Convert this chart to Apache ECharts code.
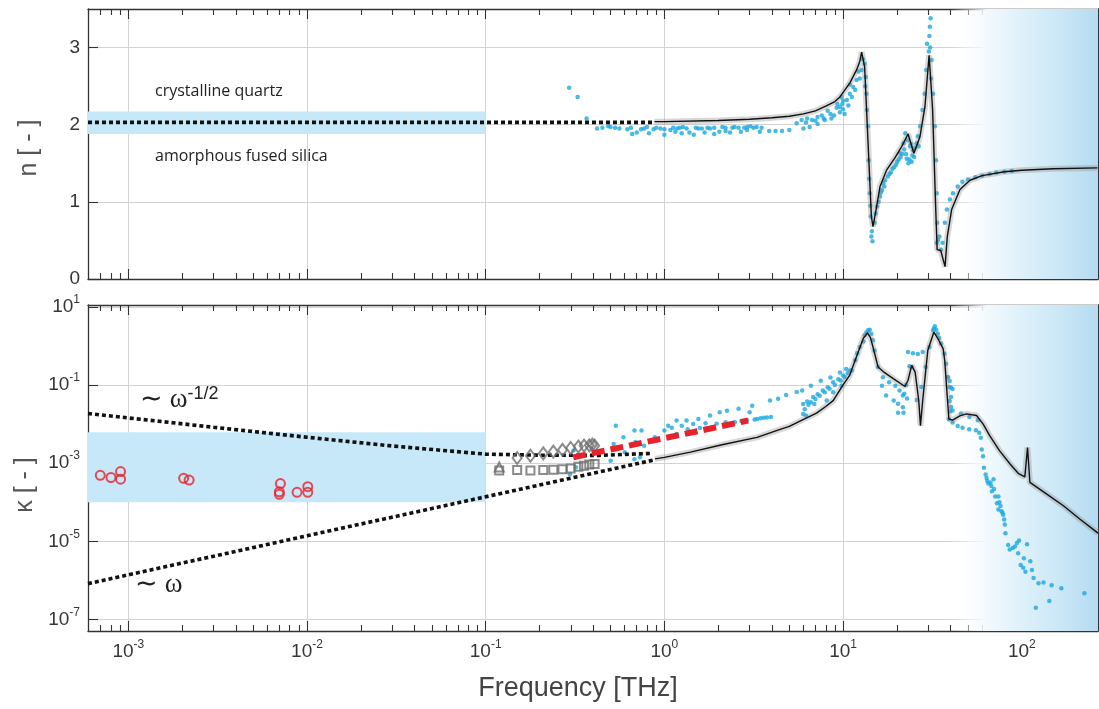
<!DOCTYPE html>
<html>
<head>
<meta charset="utf-8">
<script src="https://cdn.jsdelivr.net/npm/echarts@6/dist/echarts.min.js"></script>
<style>
  html, body { margin: 0; padding: 0; background: #fff; }
  #chart { width: 1099px; height: 709px; }
</style>
</head>
<body>
<div id="chart"></div>
<script>
// axis ranges
const xMin = 5.95e-4, xMax = 267;
const nMin = 0, nMax = 3.5;
const kMin = 5.1e-8, kMax = 11.1;

// ticks and tick labels
const xMajorTicks = [1e-3, 1e-2, 1e-1, 1, 10, 100];
const xMajorExp = ['-3', '-2', '-1', '0', '1', '2'];
const xMinorTicks = [7e-4, 8e-4, 9e-4, 2e-3, 3e-3, 4e-3, 5e-3, 6e-3, 7e-3, 8e-3, 9e-3,
  0.02, 0.03, 0.04, 0.05, 0.06, 0.07, 0.08, 0.09, 0.2, 0.3, 0.4, 0.5, 0.6, 0.7, 0.8, 0.9,
  2, 3, 4, 5, 6, 7, 8, 9, 20, 30, 40, 50, 60, 70, 80, 90, 200];
const nTicks = [0, 1, 2, 3];
const kTicks = [1e-7, 1e-5, 1e-3, 1e-1, 10];
const kExp = ['-7', '-5', '-3', '-1', '1'];

// shaded regions
const nBand = [1.88, 2.17];
const kBand = [1e-4, 6.2e-3];
const bandEnd = 0.1;
const gradStart = 40;

// refractive index n: model (black) and measured (blue)
const nModel = [[0.88, 2.04], [1, 2.04], [2, 2.055], [3, 2.07], [4, 2.09], [5, 2.11], [6, 2.14], [7, 2.18],
  [8, 2.24], [9, 2.30], [9.6, 2.36], [10.9, 2.54], [11.9, 2.71], [12.4, 2.82], [12.7, 2.94], [13.2, 2.75],
  [13.8, 1.76], [14.4, 0.81], [14.7, 0.68], [15.3, 0.90], [16.1, 1.20], [17.5, 1.41], [19.5, 1.57],
  [21.3, 1.72], [23.1, 1.88], [24.9, 1.63], [26.9, 1.84], [28.7, 2.23], [30.3, 2.90], [31.7, 2.19],
  [33.0, 0.90], [33.6, 0.38], [35.2, 0.37], [37.2, 0.16], [38.3, 0.55], [40.5, 0.90], [45.1, 1.16],
  [51.3, 1.28], [60, 1.34], [80, 1.39], [100, 1.41], [150, 1.43], [265, 1.44]];
const nDotted = [[5.95e-4, 2.03], [0.88, 2.03]];
const nMeasured = [[0.293, 2.48], [0.327, 2.36], [0.367, 2.08], [0.42, 1.95], [0.45, 1.96], [0.485, 1.98],
  [0.50, 1.97], [0.53, 1.96], [0.56, 1.95], [0.62, 1.94], [0.65, 1.96], [0.66, 1.88], [0.70, 1.90],
  [0.74, 1.94], [0.77, 1.95], [0.80, 1.97], [0.82, 1.89], [0.87, 1.94], [0.9, 1.96], [0.95, 1.95],
  [1.0, 1.87], [1.0, 1.94], [1.08, 1.93], [1.12, 1.96], [1.15, 1.91], [1.18, 1.95], [1.22, 1.96],
  [1.25, 1.89], [1.27, 1.97], [1.33, 1.95], [1.38, 1.90], [1.46, 1.87], [1.5, 1.96], [1.55, 1.95],
  [1.62, 1.95], [1.68, 1.90], [1.74, 1.96], [1.80, 1.95], [1.9, 1.96], [1.9, 1.88], [2.03, 1.91],
  [2.11, 1.97], [2.2, 1.96], [2.2, 1.92], [2.33, 1.90], [2.4, 1.96], [2.47, 1.97], [2.6, 1.96],
  [2.68, 1.91], [2.8, 1.96], [2.9, 1.93], [2.91, 1.97], [3.03, 1.98], [3.15, 1.96], [3.28, 1.97],
  [3.42, 1.91], [3.5, 1.96], [3.86, 1.92], [4.19, 1.92], [4.55, 1.92], [5.0, 1.93],
  [5.5, 2.02], [5.86, 2.06], [6.0, 1.95], [6.2, 2.03], [6.3, 2.08], [6.5, 1.97], [6.7, 2.06],
  [7.0, 2.05], [7.2, 2.10], [7.2, 2.01], [7.6, 2.12], [7.8, 2.08], [7.9, 2.06], [8.2, 2.18],
  [8.5, 2.14], [8.6, 2.08], [8.9, 2.12], [9.2, 2.22], [9.3, 2.27], [9.6, 2.16], [9.8, 2.36],
  [10.0, 2.31], [10.0, 2.20], [9.6, 2.23], [9.9, 2.27], [10.2, 2.14], [10.5, 2.32], [10.7, 2.25],
  [10.9, 2.40], [10.9, 2.52], [11.2, 2.36], [11.4, 2.49], [11.7, 2.45], [11.9, 2.58], [12.2, 2.69],
  [12.4, 2.6], [12.7, 2.71], [12.9, 2.85], [13.2, 2.79], [13.3, 2.5],
  [13.4, 2.62], [13.5, 2.40], [13.6, 2.19], [13.8, 1.98], [13.9, 1.54], [14.0, 1.3], [14.1, 1.11],
  [14.2, 0.95], [14.3, 0.81], [14.4, 0.55], [14.5, 0.62], [14.6, 0.49], [15.0, 0.73], [15.2, 0.85],
  [15.5, 0.94], [15.8, 1.0], [16.1, 1.07], [16.3, 1.12], [16.5, 1.15], [16.8, 1.24], [17.0, 1.2],
  [17.2, 1.28], [17.8, 1.33], [18.2, 1.36], [18.5, 1.38], [18.9, 1.43], [19.3, 1.45], [19.8, 1.48],
  [20.1, 1.52], [20.5, 1.55], [20.9, 1.63], [21.0, 1.58], [21.4, 1.62], [21.8, 1.76],
  [22.0, 1.68], [22.3, 1.89], [22.5, 1.62], [22.7, 1.56], [23.0, 1.8], [23.2, 1.50], [23.5, 1.55],
  [23.7, 1.72], [24.0, 1.75], [24.2, 1.52], [24.4, 1.60], [24.7, 1.67], [25.0, 1.58], [25.3, 1.70],
  [25.8, 1.76], [26.2, 1.85], [26.5, 1.72], [27.0, 1.98], [27.8, 2.19], [28.6, 2.40],
  [29.2, 2.71], [29.5, 3.05], [30.2, 2.95], [30.4, 3.15], [30.6, 3.27], [30.7, 3.0], [30.9, 3.38],
  [31.0, 2.6], [31.3, 2.84], [31.9, 2.40], [32.6, 1.98], [33.1, 1.54], [33.4, 1.11], [33.6, 0.73],
  [33.4, 0.47], [34.0, 0.51], [34.6, 0.55], [35.3, 0.38], [36.0, 0.47], [37.1, 0.73], [38.1, 0.90],
  [39.6, 1.03], [41.2, 1.11], [43.8, 1.20], [46.5, 1.26], [50, 1.29], [55, 1.32], [60, 1.34],
  [66, 1.36], [72, 1.38], [80, 1.39], [88, 1.40]];

// extinction coefficient kappa: model (black) and measured (blue)
const kModel = [[0.885, 1.29e-3], [1, 1.41e-3], [1.4, 1.91e-3], [2.1, 2.95e-3], [3.3, 4.57e-3],
  [4.4, 7.24e-3], [5.0, 8.71e-3], [5.7, 1.17e-2], [7.1, 1.91e-2], [8.0, 2.82e-2], [8.8, 3.98e-2],
  [10, 0.1], [10.9, 0.178], [11.2, 0.251], [12.4, 0.891], [13.0, 1.58], [13.7, 2.14], [14.2, 1.66],
  [14.7, 0.933], [15.7, 0.288], [16.9, 0.214], [19.1, 0.145], [22.2, 0.0912], [23.1, 0.132],
  [24.2, 0.316], [25.3, 0.214], [26.5, 0.0407], [27.1, 9.12e-3], [27.9, 0.0407], [29.8, 0.776],
  [32.2, 2.24], [33.6, 1.66], [36.3, 0.851], [37.1, 0.398], [38.0, 0.0794], [39.1, 0.0135],
  [41, 0.0126], [45, 0.0162], [49, 0.0182], [55.8, 0.0166], [60.8, 0.01], [66, 5.13e-3],
  [75, 2.09e-3], [86, 9.55e-4], [95.5, 5.5e-4], [104, 4.47e-4], [107.7, 2.51e-3], [111, 3.24e-4],
  [138, 1.62e-4], [171, 8.13e-5], [211, 3.72e-5], [267, 1.62e-5]];
const kPowerHalf = [[5.95e-4, 1.86e-2], [3e-3, 8.3e-3], [1e-2, 4.6e-3], [3e-2, 2.75e-3], [0.1, 1.7e-3],
  [0.2, 1.6e-3], [0.43, 1.58e-3], [0.86, 1.78e-3]];
const kLinear = [[5.95e-4, 8.3e-7], [0.87, 1.2e-3]];
const kMeasured = [[0.296, 5.2e-4], [0.32, 7.9e-4], [0.31, 2.1e-3], [0.50, 1.15e-3], [0.52, 3.1e-3],
  [0.535, 9.1e-3], [0.59, 4.6e-3], [0.60, 1.9e-3], [0.68, 6.8e-3], [0.69, 3.5e-3], [0.68, 1.26e-3],
  [0.73, 1.41e-3], [0.745, 6.8e-3], [0.77, 2.8e-3], [0.885, 4.6e-3], [1.0, 6.8e-3], [1.05, 9.1e-3],
  [1.1, 8e-3], [1.17, 1.23e-2], [1.17, 5.6e-3], [1.25, 9e-3], [1.33, 1.23e-2], [1.35, 7.4e-3],
  [1.45, 1e-2], [1.55, 1.35e-2], [1.58, 7.9e-3], [1.7, 1.05e-2], [1.80, 1.66e-2], [1.96, 1.02e-2],
  [2.04, 2.0e-2], [2.2, 1.12e-2], [2.24, 2.19e-2], [2.48, 1.12e-2], [2.6, 2.45e-2], [2.7, 1.2e-2],
  [2.9, 1.25e-2], [3.0, 2.0e-2], [3.1, 2.95e-2], [3.2, 1.3e-2], [3.3, 1.35e-2], [3.45, 1.4e-2],
  [3.6, 1.45e-2], [3.75, 1.48e-2], [3.95, 1.51e-2], [3.9, 3.98e-2], [4.33, 4.47e-2], [4.8, 5.5e-2],
  [5.5, 6.6e-2], [5.9, 7.2e-2], [5.98, 1.82e-2], [5.98, 3.24e-2], [6.1, 2.4e-2], [6.3, 3.8e-2],
  [6.4, 3.1e-2], [6.6, 3.6e-2], [6.8, 4.9e-2], [7.0, 4.4e-2], [7.2, 5.8e-2], [7.4, 5.3e-2],
  [7.7, 7.2e-2], [7.9, 6.5e-2], [8.2, 8.8e-2], [8.4, 8.0e-2], [8.8, 0.117], [9.0, 0.1], [9.4, 0.14],
  [9.7, 0.13], [10, 0.174], [10.2, 0.16], [10.6, 0.2], [10.9, 0.234],
  [6.6, 9.5e-2], [7.5, 0.129], [8.5, 0.155], [9.6, 0.209], [10.4, 0.257], [6.2, 1.66e-2],
  [6.9, 3.24e-2], [8.1, 3.98e-2], [8.8, 6.5e-2], [9.8, 9.5e-2],
  [11.2, 0.234], [11.7, 0.427], [12.0, 0.65], [12.4, 0.933], [13.0, 1.3], [13.2, 1.86], [13.5, 2.2],
  [13.8, 2.51], [14.1, 2.6], [14.4, 2.04], [14.7, 1.4], [15.0, 0.759], [15.7, 0.288], [16.5, 9.5e-2],
  [16.7, 0.158], [17.4, 5.4e-2], [18.1, 0.117], [19.2, 3.98e-2], [19.6, 9.5e-2], [20.3, 3.3e-2],
  [20.3, 1.95e-2], [20.7, 7.2e-2], [21.6, 5.4e-2], [21.6, 2.7e-2], [21.8, 1.95e-2], [22.0, 0.06],
  [22.5, 0.1], [22.8, 0.045], [23.1, 0.692], [23.5, 0.3], [24.2, 0.288], [24.6, 0.646],
  [25.8, 4.1e-2], [26.2, 0.617], [27.4, 8.9e-2], [27.9, 0.692], [29.0, 0.288], [30.4, 0.933],
  [31.9, 2.51], [32.2, 2.8], [32.6, 3.16], [33.2, 2.6], [33.9, 2.04], [34.5, 1.6], [35.3, 1.15],
  [36.9, 0.631], [37.7, 0.347], [38.5, 0.158], [38.7, 0.158], [39.3, 8.9e-2], [39.5, 0.126],
  [40.2, 8.5e-2], [41, 7.9e-2], [40.2, 4.9e-2], [39.5, 3.9e-2], [40.2, 2.75e-2], [39.8, 2.14e-2],
  [41.0, 2.24e-2], [39.1, 1.32e-2], [41, 1.1e-2], [43.8, 8.9e-3], [45.7, 1.86e-2], [46.6, 8.1e-3],
  [50.8, 7.4e-3], [50.9, 1.51e-2], [55.4, 6.9e-3], [56.8, 1.26e-2], [57.8, 6.0e-3], [59, 4.5e-3],
  [59.7, 2.24e-3], [60.7, 1.51e-3], [61.4, 7.6e-4], [62.8, 5.1e-4], [63.5, 4.2e-4], [64.1, 3.5e-4],
  [65, 3.0e-4], [66.8, 3.2e-4], [67.5, 2.6e-4], [68.1, 1.9e-4], [69.5, 3.9e-4], [70, 2.2e-4],
  [71, 1.41e-4], [72.6, 9.5e-5], [74, 1.41e-4], [74, 6.5e-5], [75, 1.0e-4], [76, 8e-5], [77, 5.9e-5],
  [78, 5.4e-5], [78.7, 4.8e-5], [79.7, 3.6e-5], [80.4, 2.7e-5], [81, 1.62e-5], [83.9, 8.1e-6],
  [85.6, 6.2e-6], [89, 6.8e-6], [91.6, 7.4e-6], [93.9, 9.1e-6], [96.6, 1.05e-5], [95.4, 5.0e-6],
  [98.6, 2.5e-6], [101.9, 2.1e-6], [102.7, 3.7e-6], [107, 8.5e-6], [104.8, 1.66e-6], [111.6, 3.1e-6],
  [114, 1.86e-6], [116.4, 1.15e-6], [124, 8.5e-7], [132.3, 8.9e-7], [146.9, 7.6e-7], [166.5, 6.3e-7],
  [224, 4.7e-7], [142.6, 3.0e-7], [119.8, 2.0e-7]];

// other measurements
const kMicrowave = [[6.97e-4, 4.9e-4], [8.0e-4, 4.3e-4], [9.05e-4, 6.1e-4], [9.05e-4, 3.9e-4],
  [2.04e-3, 4.1e-4], [2.19e-3, 3.7e-4], [7.1e-3, 3.0e-4], [7.0e-3, 1.85e-4], [7.0e-3, 1.6e-4],
  [8.8e-3, 1.8e-4], [1.01e-2, 2.5e-4], [1.01e-2, 1.8e-4]];
const kDiamonds = [[0.150, 1.36e-3], [0.178, 1.55e-3], [0.210, 1.78e-3], [0.239, 1.97e-3],
  [0.269, 2.19e-3], [0.299, 2.45e-3], [0.330, 2.65e-3], [0.355, 2.82e-3], [0.380, 2.86e-3],
  [0.395, 2.98e-3], [0.407, 2.8e-3]];
const kSquares = [[0.119, 6.5e-4], [0.150, 6.7e-4], [0.178, 6.45e-4], [0.210, 6.7e-4], [0.239, 6.8e-4],
  [0.269, 6.95e-4], [0.299, 7.35e-4], [0.330, 8.1e-4], [0.355, 8.6e-4], [0.380, 9.2e-4], [0.407, 9.5e-4]];
const kTriangles = [[0.119, 8.0e-4]];
const kTHz = [[0.309, 1.41e-3], [2.94, 1.23e-2]];

const FONT = '"Liberation Sans", Arial, sans-serif';
const axisCol = '#333';
const gridCol = '#d3d3d3';
const labelCol = '#363636';
const blue = '#1ba7e0';
const red = '#e6222a';
const gray = '#6e6e6e';

const rich = {
  b: { fontSize: 19, lineHeight: 26, color: labelCol, fontFamily: FONT },
  s: { fontSize: 12, lineHeight: 12, verticalAlign: 'top', color: labelCol, fontFamily: FONT }
};

function expFmt(ticks, exps) {
  return (v) => {
    const i = ticks.findIndex((t) => Math.abs(t - v) / t < 1e-6);
    return i < 0 ? '' : `{b|10}{s|${exps[i]}}`;
  };
}

function xAxis(grid, pos, major, withLabels) {
  return {
    type: 'log', gridIndex: grid, min: xMin, max: xMax, position: pos,
    axisLine: { show: major, onZero: false, lineStyle: { color: axisCol, width: 1.3 } },
    axisTick: { show: true, inside: true, length: major ? 10 : 6,
      customValues: major ? xMajorTicks : xMinorTicks, lineStyle: { color: axisCol, width: 1.1 } },
    axisLabel: { show: withLabels, customValues: xMajorTicks, formatter: expFmt(xMajorTicks, xMajorExp),
      rich, margin: 8 },
    splitLine: { show: major && pos === 'bottom', lineStyle: { color: gridCol, width: 1 } },
    minorTick: { show: false }, minorSplitLine: { show: false }
  };
}

function yAxis(grid, pos, log) {
  const left = pos === 'left';
  const ticks = log ? kTicks : nTicks;
  return {
    type: log ? 'log' : 'value', gridIndex: grid, position: pos,
    min: log ? kMin : nMin, max: log ? kMax : nMax,
    axisLine: { show: true, onZero: false, lineStyle: { color: axisCol, width: 1.3 } },
    axisTick: { show: true, inside: true, length: 10, customValues: ticks, lineStyle: { color: axisCol, width: 1.1 } },
    axisLabel: left
      ? (log ? { customValues: kTicks, formatter: expFmt(kTicks, kExp), rich, margin: 8 }
             : { customValues: nTicks, fontSize: 19, color: labelCol, fontFamily: FONT, margin: 8 })
      : { show: false },
    splitLine: { show: left, lineStyle: { color: gridCol, width: 1 } }
  };
}

const xAxes = [
  xAxis(0, 'bottom', true, false), xAxis(0, 'bottom', false, false),
  xAxis(0, 'top', true, false), xAxis(0, 'top', false, false),
  Object.assign(xAxis(1, 'bottom', true, true), {
    name: 'Frequency [THz]', nameLocation: 'middle', nameGap: 44,
    nameTextStyle: { fontSize: 27, color: '#444', fontFamily: FONT, padding: [0, 30, 0, 0] }
  }),
  xAxis(1, 'bottom', false, false),
  xAxis(1, 'top', true, false), xAxis(1, 'top', false, false)
];
const yAxes = [
  Object.assign(yAxis(0, 'left', false), {
    name: 'n [ - ]', nameLocation: 'middle', nameGap: 46,
    nameTextStyle: { fontSize: 25, color: '#555', fontFamily: FONT, padding: [0, 8, 0, 0] }
  }),
  yAxis(0, 'right', false),
  Object.assign(yAxis(1, 'left', true), {
    name: 'κ [ - ]', nameLocation: 'middle', nameGap: 46,
    nameTextStyle: { fontSize: 25, color: '#555', fontFamily: FONT, padding: [0, 34, 0, 0] }
  }),
  yAxis(1, 'right', true)
];

// white to light blue towards the right edge
const gradient = new echarts.graphic.LinearGradient(0, 0, 1, 0, [
  { offset: 0, color: 'rgba(255,255,255,0)' },
  { offset: 0.25, color: '#f2f9fd' },
  { offset: 0.5, color: '#ddf0fa' },
  { offset: 0.75, color: '#cae7f6' },
  { offset: 1, color: '#b4dbf1' }
]);

function shade(xi, yi, band) {
  return {
    type: 'scatter', xAxisIndex: xi, yAxisIndex: yi, data: [], z: -1, silent: true,
    markArea: { silent: true, data: [
      [{ xAxis: xMin, yAxis: band[0], itemStyle: { color: '#c6e8f8' } }, { xAxis: bandEnd, yAxis: band[1] }],
      [{ xAxis: gradStart, itemStyle: { color: gradient } }, { xAxis: xMax }]
    ] }
  };
}

const dots = (xi, yi, data) => ({ type: 'scatter', xAxisIndex: xi, yAxisIndex: yi, data,
  symbol: 'circle', symbolSize: 4.5, itemStyle: { color: blue }, z: 2 });
const halo = (xi, yi, data) => ({ type: 'line', xAxisIndex: xi, yAxisIndex: yi, data, symbol: 'none',
  lineStyle: { color: 'rgba(140,140,140,0.35)', width: 6 }, z: 3 });
const model = (xi, yi, data) => ({ type: 'line', xAxisIndex: xi, yAxisIndex: yi, data, symbol: 'none',
  lineStyle: { color: '#111', width: 1.4 }, z: 4 });
const dotted = (xi, yi, data) => ({ type: 'line', xAxisIndex: xi, yAxisIndex: yi, data, symbol: 'none',
  lineStyle: { color: '#111', width: 3.6, type: [4, 3], cap: 'butt' }, z: 4 });
const open = (xi, yi, data, symbol, size, color) => ({ type: 'scatter', xAxisIndex: xi, yAxisIndex: yi, data,
  symbol, symbolSize: size, itemStyle: { color: 'rgba(0,0,0,0)', borderColor: color, borderWidth: 2 }, z: 5 });

const option = {
  animation: false,
  backgroundColor: '#fff',
  grid: [
    { left: 88, top: 9, width: 1010, height: 270 },
    { left: 88, top: 305, width: 1010, height: 326 }
  ],
  xAxis: xAxes,
  yAxis: yAxes,
  series: [
    shade(0, 0, nBand),
    dots(0, 0, nMeasured),
    dotted(0, 0, nDotted),
    halo(0, 0, nModel),
    model(0, 0, nModel),
    shade(4, 2, kBand),
    dots(4, 2, kMeasured),
    dotted(4, 2, kPowerHalf),
    dotted(4, 2, kLinear),
    halo(4, 2, kModel),
    model(4, 2, kModel),
    open(4, 2, kMicrowave, 'circle', 9, red),
    open(4, 2, kSquares, 'rect', 8, gray),
    open(4, 2, kTriangles, 'triangle', 9, gray),
    open(4, 2, kDiamonds, 'diamond', [9, 12], gray),
    { type: 'line', xAxisIndex: 4, yAxisIndex: 2, data: kTHz, symbol: 'none', z: 6,
      lineStyle: { color: red, width: 6, type: [13, 6], cap: 'butt' } }
  ],
  graphic: [
    { type: 'text', x: 155, y: 91, style: { text: 'crystalline quartz', font: '16px "Open Sans"', fill: '#222',
      verticalAlign: 'middle' } },
    { type: 'text', x: 155, y: 156, style: { text: 'amorphous fused silica', font: '16px "Open Sans"', fill: '#222',
      verticalAlign: 'middle' } },
    { type: 'text', x: 140, y: 400, style: { text: '{w|∼ ω}{s|-1/2}', verticalAlign: 'middle',
      rich: { w: { fontSize: 27, lineHeight: 30, fontFamily: '"Liberation Serif", serif', fill: '#222' },
              s: { fontSize: 18, lineHeight: 18, verticalAlign: 'top', fontFamily: FONT, fill: '#222' } } } },
    { type: 'text', x: 135, y: 585, style: { text: '∼ ω', verticalAlign: 'middle',
      font: '27px "Liberation Serif", serif', fill: '#222' } }
  ]
};

const chart = echarts.init(document.getElementById('chart'));
chart.setOption(option);
</script>
</body>
</html>
